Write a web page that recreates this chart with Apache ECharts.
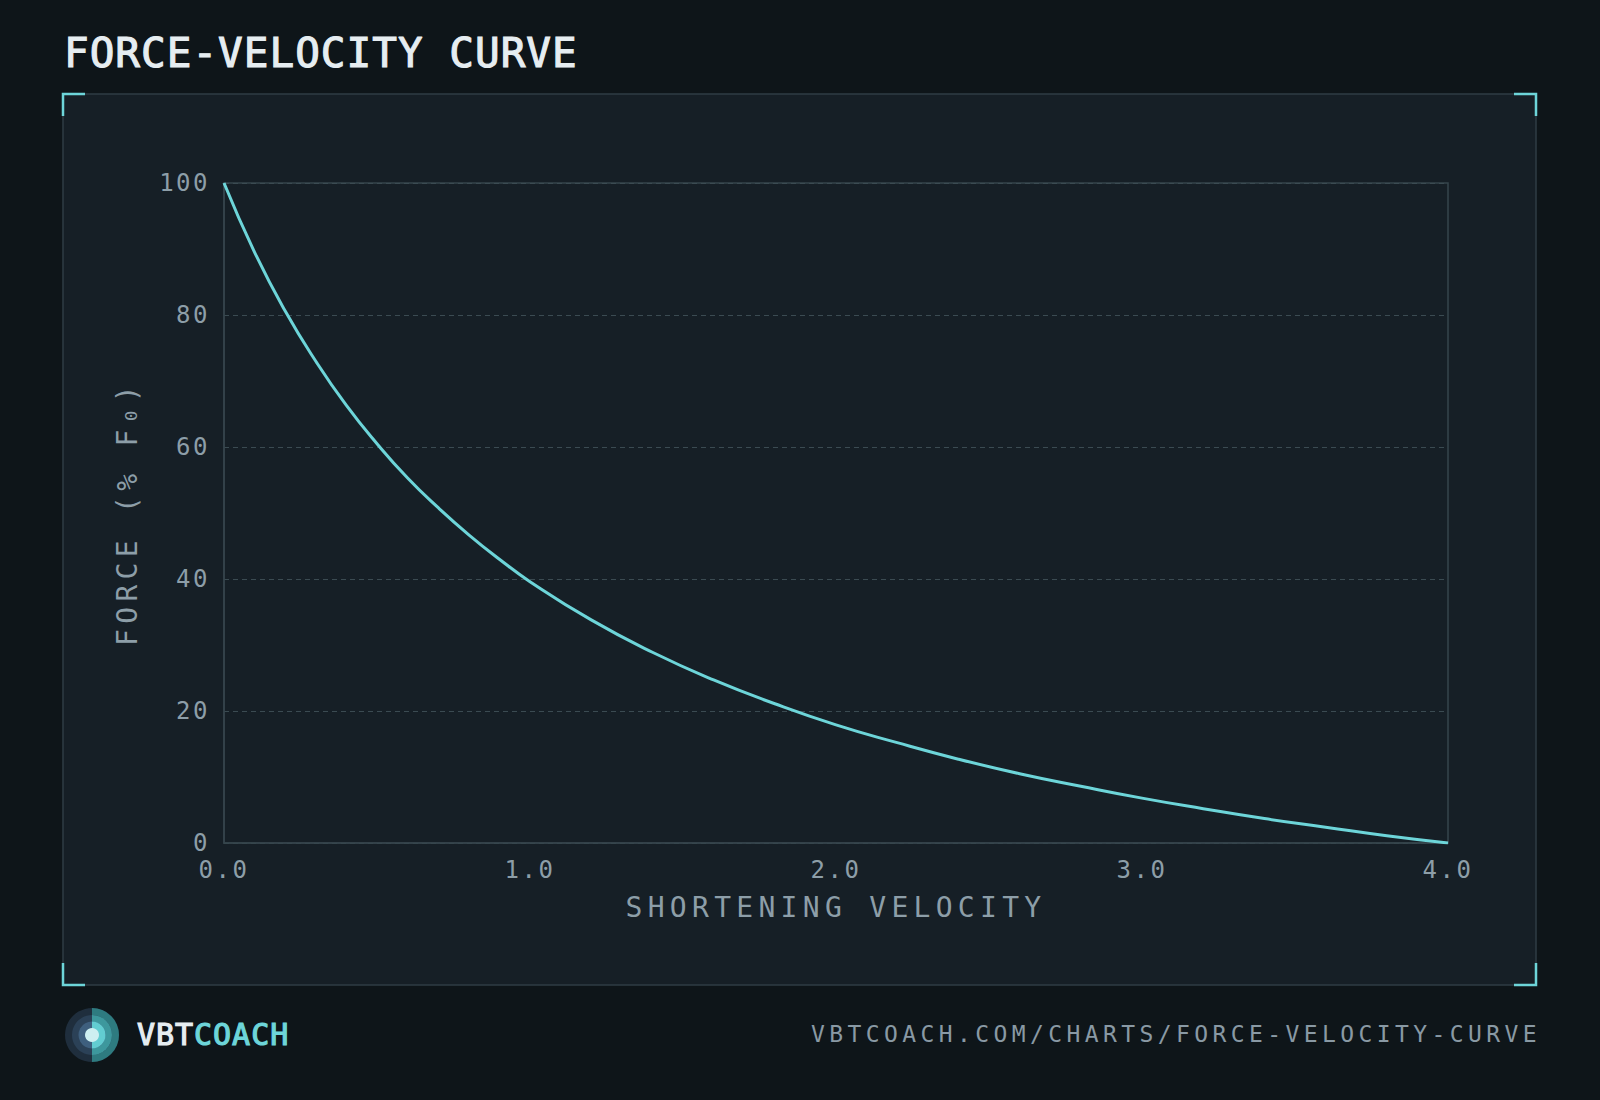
<!DOCTYPE html>
<html>
<head>
<meta charset="utf-8">
<title>Force-Velocity Curve</title>
<script src="https://cdn.jsdelivr.net/npm/echarts@6/dist/echarts.min.js"></script>
<style>
  html, body { margin: 0; padding: 0; background: #0e1519; }
  #chart { width: 1600px; height: 1100px; }
  /* letter spacing for the svg text, picked by font size */
  #chart text[style*="24px"] { letter-spacing: 2.5px; }
  #chart text[style*="23px"] { letter-spacing: 4.4px; }
  #chart text[style*="28px"] { letter-spacing: 5.3px; }
  #chart text[style*="41px"] { letter-spacing: 1px; }
  #chart text[style*="30px"] { letter-spacing: 1px; }
</style>
</head>
<body>
<div id="chart"></div>
<script>
// shortening velocity (x) and force in % of F0 (y)
var velocity = [0.0, 0.1, 0.2, 0.3, 0.4, 0.5, 0.6, 0.7, 0.8, 0.9, 1.0,
                1.2, 1.4, 1.6, 1.8, 2.0, 2.2, 2.4, 2.6, 2.8, 3.0,
                3.2, 3.4, 3.6, 3.8, 4.0];
var force = [100, 89.5, 80.6, 73.0, 66.3, 60.5, 55.3, 50.8, 46.7, 43.0, 39.6,
             33.8, 28.9, 24.7, 21.1, 17.9, 15.2, 12.7, 10.5, 8.6, 6.8,
             5.2, 3.7, 2.4, 1.1, 0];

var titleText = 'FORCE-VELOCITY CURVE';
var xName = 'SHORTENING VELOCITY';
var yName = 'FORCE (% F\u2080)';
var siteUrl = 'VBTCOACH.COM/CHARTS/FORCE-VELOCITY-CURVE';

var FONT = '"DejaVu Sans Mono", "Liberation Mono", monospace';
var CYAN = '#6dd5d9';
var LABEL = '#8d9ea8';
var LINE = '#36454c';
var WHITE = '#e6edf1';

var points = velocity.map(function (v, i) { return [v, force[i]]; });

var chart = echarts.init(document.getElementById('chart'), null, { renderer: 'svg' });

function bracket(pts) {
  return {
    type: 'polyline', z: 5, silent: true,
    shape: { points: pts },
    style: { stroke: CYAN, lineWidth: 2.5, fill: null }
  };
}

chart.setOption({
  backgroundColor: '#0e1519',
  animation: false,
  grid: {
    left: 224, right: 152, top: 183, bottom: 257,
    show: true, borderColor: LINE, borderWidth: 1.5, backgroundColor: 'transparent'
  },
  xAxis: {
    type: 'value', min: 0, max: 4, interval: 1,
    name: xName, nameLocation: 'middle', nameGap: 50,
    nameTextStyle: { color: LABEL, fontFamily: FONT, fontSize: 28 },
    axisLine: { lineStyle: { color: LINE, width: 1.5 } },
    axisTick: { show: false },
    axisLabel: {
      color: LABEL, fontFamily: FONT, fontSize: 24, margin: 17, lineHeight: 20,
      formatter: function (v) { return v.toFixed(1); }
    },
    splitLine: { show: false }
  },
  yAxis: {
    type: 'value', min: 0, max: 100, interval: 20,
    name: yName, nameLocation: 'middle', nameGap: 83, nameRotate: 90,
    nameTextStyle: { color: LABEL, fontFamily: FONT, fontSize: 28 },
    axisLine: { show: true, lineStyle: { color: LINE, width: 1.5 } },
    axisTick: { show: false },
    axisLabel: { color: LABEL, fontFamily: FONT, fontSize: 24, margin: 14, lineHeight: 20 },
    splitLine: { lineStyle: { color: '#3b4b52', type: [5, 4], width: 1.2 } }
  },
  series: [{
    type: 'line',
    data: points,
    smooth: true,
    showSymbol: false,
    lineStyle: { color: CYAN, width: 3 },
    z: 3
  }],
  graphic: [
    {
      type: 'rect', z: -10, silent: true,
      shape: { x: 63, y: 94, width: 1473, height: 891 },
      style: { fill: '#161f26', stroke: '#2f3d44', lineWidth: 1.5 }
    },
    bracket([[63, 116], [63, 94], [85, 94]]),
    bracket([[1514, 94], [1536, 94], [1536, 116]]),
    bracket([[63, 963], [63, 985], [85, 985]]),
    bracket([[1514, 985], [1536, 985], [1536, 963]]),
    {
      type: 'text', x: 64, y: 53,
      style: {
        text: titleText, fill: WHITE, font: '41px ' + FONT,
        stroke: WHITE, lineWidth: 1.1, verticalAlign: 'middle'
      }
    },
    // logo: left half dark, right half teal
    { type: 'circle', shape: { cx: 92, cy: 1035, r: 27 }, style: { fill: '#1f2e3d' } },
    { type: 'sector', shape: { cx: 92, cy: 1035, r: 27, startAngle: -Math.PI / 2, endAngle: Math.PI / 2 }, style: { fill: '#2e7b80' } },
    { type: 'circle', shape: { cx: 92, cy: 1035, r: 20 }, style: { fill: '#2b4157' } },
    { type: 'sector', shape: { cx: 92, cy: 1035, r: 20, startAngle: -Math.PI / 2, endAngle: Math.PI / 2 }, style: { fill: '#3d989d' } },
    { type: 'circle', shape: { cx: 92, cy: 1035, r: 13.5 }, style: { fill: '#3e5f7e' } },
    { type: 'sector', shape: { cx: 92, cy: 1035, r: 13.5, startAngle: -Math.PI / 2, endAngle: Math.PI / 2 }, style: { fill: '#62cdd1' } },
    { type: 'circle', shape: { cx: 92, cy: 1035, r: 7 }, style: { fill: '#cdeff1' } },
    {
      type: 'text', x: 137, y: 1034,
      style: {
        text: 'VBT', fill: WHITE, font: '30px ' + FONT,
        stroke: WHITE, lineWidth: 1.2, verticalAlign: 'middle'
      }
    },
    {
      type: 'text', x: 194, y: 1034,
      style: {
        text: 'COACH', fill: CYAN, font: '30px ' + FONT,
        stroke: CYAN, lineWidth: 1.2, verticalAlign: 'middle'
      }
    },
    {
      type: 'text', x: 1541, y: 1034,
      style: {
        text: siteUrl, fill: '#8999a4', font: '23px ' + FONT,
        align: 'right', verticalAlign: 'middle'
      }
    }
  ]
});
</script>
</body>
</html>
